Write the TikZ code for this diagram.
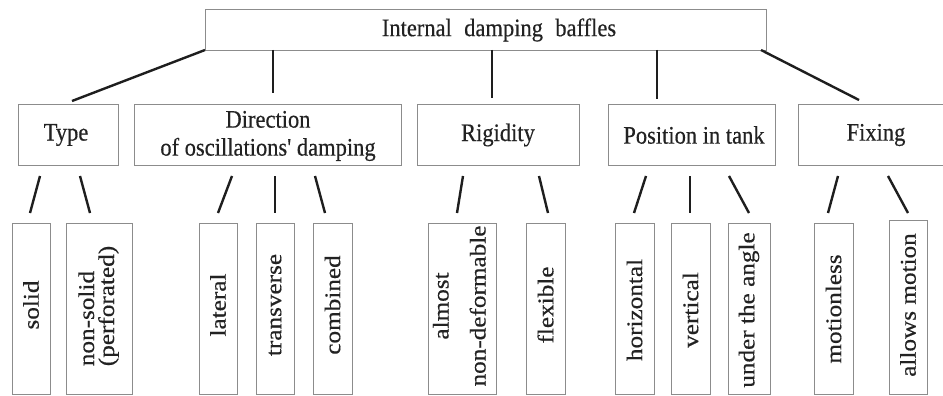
\documentclass[tikz,border=0pt]{standalone}
\usepackage{graphicx}
\usepackage{fontspec}
\setmainfont{Liberation Serif}[FakeBold=0.4]
\definecolor{boxgray}{HTML}{8C8C8C}
\definecolor{linecol}{HTML}{1E1E1E}
\definecolor{txt}{HTML}{222222}
\newcommand{\hs}[1]{\scalebox{1}[1.12]{#1}}
\newcommand{\vsx}[1]{\scalebox{1.12}[1]{#1}}
\begin{document}
\begin{tikzpicture}[x=1pt,y=-1pt,
  box/.style={draw=boxgray, line width=1.3pt, fill=white, anchor=north west, inner sep=0pt},
  conn/.style={draw=linecol, line width=2.4pt},
  lbl/.style={inner sep=0pt, text=txt, font=\fontsize{22.5}{25}\selectfont},
  vlbl/.style={lbl, rotate=90}]
\useasboundingbox (0,0) rectangle (943,396);
\clip (0,0) rectangle (943,396);
\fill[white] (0,0) rectangle (943,396);

% top box
\node[box, minimum width=561pt, minimum height=41pt] (root) at (205,9) {};
\node[lbl] (root-t) at (499,30) {\hs{Internal\hspace{0.55em}damping\hspace{0.55em}baffles}};

% second row
\node[box, minimum width=100pt, minimum height=61pt] (type) at (18,104) {};
\node[lbl] (type-t) at (66,135) {\hs{Type}};
\node[box, minimum width=267pt, minimum height=61pt] (dir) at (134,104) {};
\node[lbl] (dir-t) at (268,136) {\hs{\begin{tabular}{@{}c@{}}Direction\\of oscillations\textquotesingle\ damping\end{tabular}}};
\node[box, minimum width=162pt, minimum height=61pt] (rig) at (417,104) {};
\node[lbl] (rig-t) at (498,135) {\hs{Rigidity}};
\node[box, minimum width=167pt, minimum height=61pt] (pos) at (608,104) {};
\node[lbl] (pos-t) at (694,135) {\hs{Position in tank}};
\node[box, minimum width=162pt, minimum height=61pt] (fix) at (798,104) {};
\node[lbl] (fix-t) at (876,135) {\hs{Fixing}};

% third row boxes
\node[box, minimum width=38pt, minimum height=171pt] (solid) at (12,223) {};
\node[box, minimum width=66pt, minimum height=171pt] (nonsolid) at (66,223) {};
\node[box, minimum width=38pt, minimum height=171pt] (lateral) at (199,223) {};
\node[box, minimum width=38pt, minimum height=171pt] (transverse) at (256,223) {};
\node[box, minimum width=39pt, minimum height=171pt] (combined) at (313,223) {};
\node[box, minimum width=68pt, minimum height=171pt] (almost) at (428,223) {};
\node[box, minimum width=39pt, minimum height=171pt] (flexible) at (526,223) {};
\node[box, minimum width=39pt, minimum height=171pt] (horizontal) at (615,223) {};
\node[box, minimum width=39pt, minimum height=171pt] (vertical) at (671,223) {};
\node[box, minimum width=42pt, minimum height=171pt] (under) at (728,223) {};
\node[box, minimum width=39pt, minimum height=171pt] (motionless) at (814,223) {};
\node[box, minimum width=38pt, minimum height=174pt] (allows) at (889,220) {};

% third row texts
\node[vlbl] (solid-t) at (31,305) {\vsx{solid}};
\node[vlbl] (nonsolid-t) at (99,306) {\vsx{\begin{tabular}{@{}l@{}}non-solid\\[-5pt](perforated)\end{tabular}}};
\node[vlbl] (lateral-t) at (218,305) {\vsx{lateral}};
\node[vlbl] (transverse-t) at (275,305) {\vsx{transverse}};
\node[vlbl] (combined-t) at (332.5,305) {\vsx{combined}};
\node[vlbl] (almost-t) at (462,306) {\vsx{\begin{tabular}{@{}c@{}}almost\\[12pt]non-deformable\end{tabular}}};
\node[vlbl] (flexible-t) at (545.5,305) {\vsx{flexible}};
\node[vlbl] (horizontal-t) at (634.5,310) {\vsx{horizontal}};
\node[vlbl] (vertical-t) at (690.5,310) {\vsx{vertical}};
\node[vlbl] (under-t) at (749,310) {\vsx{under the angle}};
\node[vlbl] (motionless-t) at (833.5,309) {\vsx{motionless}};
\node[vlbl] (allows-t) at (908,305) {\vsx{allows motion}};

% connector end points
\coordinate (r1) at (205,50);   \coordinate (type-in) at (72,101);
\coordinate (r2) at (273,50);   \coordinate (dir-in) at (273,93);
\coordinate (r3) at (492,50);   \coordinate (rig-in) at (492,98);
\coordinate (r4) at (657,50);   \coordinate (pos-in) at (657,99);
\coordinate (r5) at (761,50);   \coordinate (fix-in) at (859,100);

\coordinate (type-o1) at (40,176);  \coordinate (solid-in) at (30,213);
\coordinate (type-o2) at (80,176);  \coordinate (nonsolid-in) at (90,213);
\coordinate (dir-o1) at (232,176);  \coordinate (lateral-in) at (218,213);
\coordinate (dir-o2) at (275,176);  \coordinate (transverse-in) at (275,213);
\coordinate (dir-o3) at (315,176);  \coordinate (combined-in) at (325,213);
\coordinate (rig-o1) at (463,176);  \coordinate (almost-in) at (457,213);
\coordinate (rig-o2) at (539,176);  \coordinate (flexible-in) at (548,213);
\coordinate (pos-o1) at (646,176);  \coordinate (horizontal-in) at (634,213);
\coordinate (pos-o2) at (690,176);  \coordinate (vertical-in) at (690,213);
\coordinate (pos-o3) at (729,176);  \coordinate (under-in) at (749,213);
\coordinate (fix-o1) at (838,176);  \coordinate (motionless-in) at (828,213);
\coordinate (fix-o2) at (888,176);  \coordinate (allows-in) at (908,213);

% connectors
\draw[conn] (r1) -- (type-in);
\draw[conn] (r2) -- (dir-in);
\draw[conn] (r3) -- (rig-in);
\draw[conn] (r4) -- (pos-in);
\draw[conn] (r5) -- (fix-in);
\draw[conn] (type-o1) -- (solid-in);
\draw[conn] (type-o2) -- (nonsolid-in);
\draw[conn] (dir-o1) -- (lateral-in);
\draw[conn] (dir-o2) -- (transverse-in);
\draw[conn] (dir-o3) -- (combined-in);
\draw[conn] (rig-o1) -- (almost-in);
\draw[conn] (rig-o2) -- (flexible-in);
\draw[conn] (pos-o1) -- (horizontal-in);
\draw[conn] (pos-o2) -- (vertical-in);
\draw[conn] (pos-o3) -- (under-in);
\draw[conn] (fix-o1) -- (motionless-in);
\draw[conn] (fix-o2) -- (allows-in);
\end{tikzpicture}
\end{document}
